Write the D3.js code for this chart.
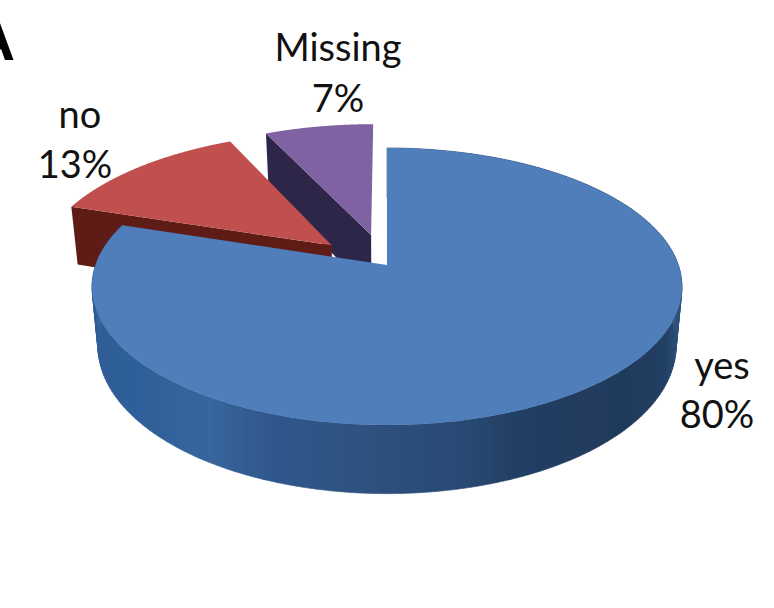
<!DOCTYPE html>
<html><head><meta charset="utf-8">
<script src="https://cdn.jsdelivr.net/npm/d3@7/dist/d3.min.js"></script>
<style>html,body{margin:0;padding:0;background:#fff}svg{display:block}text{font-family:Lato,"Open Sans",sans-serif;fill:#111}</style>
</head><body><div id="c"></div>
<script>
const categories = ["yes", "no", "Missing"];
const values = [80, 13, 7];
const percentLabels = ["80%", "13%", "7%"];
const panelLabel = "A";
const explode = [0, 0.26, 0.26];
const topColors = ["#4f7ebb", "#c0504d", "#7f62a1"];
const faceColors = ["#24466f", "#5f1c16", "#2f2749"];

const W = 774, H = 608;
const svg = d3.select("#c").append("svg").attr("width", W).attr("height", H);
const defs = svg.append("defs");
defs.append("filter").attr("id", "soft").attr("x", "-5%").attr("y", "-5%").attr("width", "110%").attr("height", "110%")
  .append("feGaussianBlur").attr("stdDeviation", 0.7);
const grad = defs.append("linearGradient").attr("id", "blueSide")
  .attr("gradientUnits", "userSpaceOnUse").attr("x1", 92).attr("x2", 682).attr("y1", 0).attr("y2", 0);
[[0, "#2d5c97"], [0.08, "#2f5f9a"], [0.2, "#37659c"], [0.3, "#2f588c"], [0.45, "#2e5280"],
 [0.62, "#2a4a74"], [0.72, "#233f64"], [0.9, "#1f3a5c"], [0.97, "#223f63"], [1, "#2e5480"]]
  .forEach(([o, c]) => grad.append("stop").attr("offset", o).attr("stop-color", c));

// perspective projection of the pie's disc onto the page
const cx = 387, cy = 265, persp = 0.155, taper = 0.98;
const depths = [58, 62, 62], radii = [1, 1.02, 1.02], nudgeY = [0, 3, 3];
const xScale = d3.scaleLinear().domain([-1, 1]).range([cx - 291.4, cx + 291.4]);
const yScale = d3.scaleLinear().domain([-1, 1]).range([cy + 135.2, cy - 135.2]);
const project = (u, v, low, i) => {
  const w = 1 + persp * v;
  const k = low ? taper : 1;
  return [xScale(u / w * k), yScale(v / w) + nudgeY[i] + (low ? depths[i] / w : 0)];
};
const line = d3.line();

const arcs = d3.pie().sort(null).startAngle(0).endAngle(2 * Math.PI)(values);
const wedges = arcs.map((a, i) => {
  const mid = (a.startAngle + a.endAngle) / 2;
  const ou = explode[i] * Math.sin(mid), ov = explode[i] * Math.cos(mid);
  const rim = d3.range(0, 241).map(j => a.startAngle + (a.endAngle - a.startAngle) * j / 240)
    .map(t => [ou + radii[i] * Math.sin(t), ov + radii[i] * Math.cos(t)]);
  return { i, ou, ov, rim };
});

const g = svg.append("g").attr("filter", "url(#soft)");
[2, 1, 0].forEach(i => {
  const w = wedges[i];
  const top = w.rim.map(p => project(p[0], p[1], false, i));
  if (i === 0) {
    // outer wall, as one quad per rim step so the silhouette is closed
    const bottom = w.rim.map(p => project(p[0], p[1], true, i));
    const quads = d3.range(top.length - 1).map(j => [top[j], top[j + 1], bottom[j + 1], bottom[j]]);
    g.append("path").attr("d", quads.map(q => line(q) + "Z").join(""))
      .attr("fill", "url(#blueSide)").attr("stroke", "url(#blueSide)").attr("stroke-width", 0.6);
  } else {
    // cut face on the wedge's starting edge
    const s = w.rim[0];
    g.append("path").attr("d", line([
      project(w.ou, w.ov, false, i), project(s[0], s[1], false, i),
      project(s[0], s[1], true, i), project(w.ou, w.ov, true, i)]) + "Z")
      .attr("fill", faceColors[i]);
  }
  // top surface
  g.append("path").attr("d", line([project(w.ou, w.ov, false, i)].concat(top)) + "Z")
    .attr("fill", topColors[i]);
});

const labelPos = [
  { name: [722, 379], pct: [717, 428] },
  { name: [80, 128], pct: [75, 178] },
  { name: [338, 61], pct: [338, 112] }
];
categories.forEach((c, i) => {
  svg.append("text").attr("x", labelPos[i].name[0]).attr("y", labelPos[i].name[1])
    .attr("text-anchor", "middle").attr("font-size", 38).text(c);
  svg.append("text").attr("x", labelPos[i].pct[0]).attr("y", labelPos[i].pct[1])
    .attr("text-anchor", "middle").attr("font-size", 38).text(percentLabels[i]);
});
svg.append("text").attr("x", 15).attr("y", 60).attr("text-anchor", "end")
  .attr("font-size", 60).attr("font-weight", 700)
  .style("font-family", "'Liberation Sans',sans-serif").style("fill", "#000").text(panelLabel);
</script></body></html>
